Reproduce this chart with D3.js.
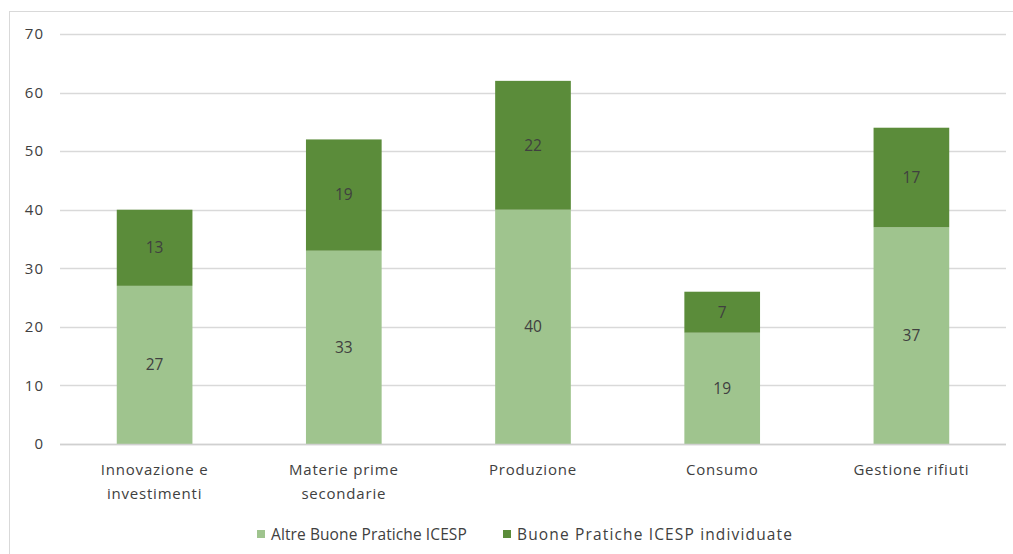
<!DOCTYPE html>
<html>
<head>
<meta charset="utf-8">
<script src="https://cdn.jsdelivr.net/npm/d3@7"></script>
<style>
  html, body { margin: 0; padding: 0; background: #fff; }
  svg { display: block; font-family: "Open Sans", "Noto Sans", sans-serif; }
</style>
</head>
<body>
<svg id="chart" width="1013" height="554"></svg>
<script>
// Categories (multi-line labels) and stacked series values
const categories = [
  ["Innovazione e", "investimenti"],
  ["Materie prime", "secondarie"],
  ["Produzione"],
  ["Consumo"],
  ["Gestione rifiuti"]
];
const altre = [27, 33, 40, 19, 37];        // Altre Buone Pratiche ICESP
const individuate = [13, 19, 22, 7, 17];   // Buone Pratiche ICESP individuate
const seriesNames = ["Altre Buone Pratiche ICESP", "Buone Pratiche ICESP individuate"];
const yTicks = [0, 10, 20, 30, 40, 50, 60, 70];

const colors = ["#9FC48E", "#5B8C3A"];
const textColor = "#404040";

const svg = d3.select("#chart");
const W = 1013, H = 554;

// Outer chart frame
svg.append("rect")
  .attr("x", 9.5).attr("y", 11.5)
  .attr("width", W + 10).attr("height", H + 10)
  .attr("fill", "#fff").attr("stroke", "#d9d9d9").attr("stroke-width", 1);

const plot = { left: 60, right: 1006, top: 34, bottom: 444 };

const keys = categories.map(c => c.join(" "));
const x = d3.scaleBand().domain(keys).range([plot.left, plot.right]).paddingInner(0.6).paddingOuter(0.3);
const y = d3.scaleLinear().domain([0, 70]).range([plot.bottom, plot.top]);

// Gridlines
svg.append("g")
  .selectAll("line")
  .data(yTicks)
  .join("line")
  .attr("x1", plot.left).attr("x2", plot.right)
  .attr("y1", d => Math.round(y(d)) + 0.5).attr("y2", d => Math.round(y(d)) + 0.5)
  .attr("stroke", "#d9d9d9").attr("stroke-width", 1.3);

// Y axis tick labels
const yAxis = d3.axisLeft(y).tickValues(yTicks).tickSize(0).tickPadding(0);
svg.append("g")
  .attr("transform", `translate(${plot.left - 16},0)`)
  .call(yAxis)
  .call(g => g.select(".domain").remove())
  .selectAll("text")
  .attr("fill", textColor)
  .attr("font-size", 15)
  .attr("letter-spacing", 1)
  .attr("font-family", "'Open Sans', sans-serif");

// Stacked data
const rows = keys.map((k, i) => ({ key: k, altre: altre[i], individuate: individuate[i] }));
const stack = d3.stack().keys(["altre", "individuate"]);
const stacked = stack(rows);

const layers = svg.append("g").selectAll("g")
  .data(stacked)
  .join("g")
  .attr("fill", (d, i) => colors[i]);

layers.selectAll("rect")
  .data(d => d)
  .join("rect")
  .attr("x", d => x(d.data.key))
  .attr("width", x.bandwidth())
  .attr("y", d => y(d[1]))
  .attr("height", d => y(d[0]) - y(d[1]));

// Value labels centered in each segment
layers.selectAll("text")
  .data(d => d)
  .join("text")
  .attr("x", d => x(d.data.key) + x.bandwidth() / 2)
  .attr("y", d => (y(d[0]) + y(d[1])) / 2)
  .attr("dy", "0.35em")
  .attr("text-anchor", "middle")
  .attr("fill", textColor)
  .attr("font-size", 15.5)
  .text(d => d[1] - d[0]);

// Baseline
svg.append("line")
  .attr("x1", plot.left).attr("x2", plot.right)
  .attr("y1", plot.bottom + 0.5).attr("y2", plot.bottom + 0.5)
  .attr("stroke", "#d0d0d0").attr("stroke-width", 1.3);

// Category labels
const xl = svg.append("g");
categories.forEach((lines, i) => {
  const cx = x(keys[i]) + x.bandwidth() / 2;
  const t = xl.append("text")
    .attr("y", 475)
    .attr("text-anchor", "middle")
    .attr("fill", textColor)
    .attr("font-size", 15)
    .attr("letter-spacing", 0.8);
  lines.forEach((ln, j) => {
    t.append("tspan")
      .attr("x", cx)
      .attr("dy", j === 0 ? 0 : 24)
      .text(ln);
  });
});

// Legend
const legendItems = [
  { name: seriesNames[0], color: colors[0], x: 257, spacing: 0.1 },
  { name: seriesNames[1], color: colors[1], x: 503, spacing: 1.15 }
];
const lg = svg.append("g");
legendItems.forEach(it => {
  lg.append("rect").attr("x", it.x).attr("y", 530).attr("width", 8).attr("height", 8).attr("fill", it.color);
  lg.append("text").attr("x", it.x + 14).attr("y", 540)
    .attr("fill", textColor).attr("font-size", 15.5).attr("letter-spacing", it.spacing)
    .text(it.name);
});
</script>
</body>
</html>
